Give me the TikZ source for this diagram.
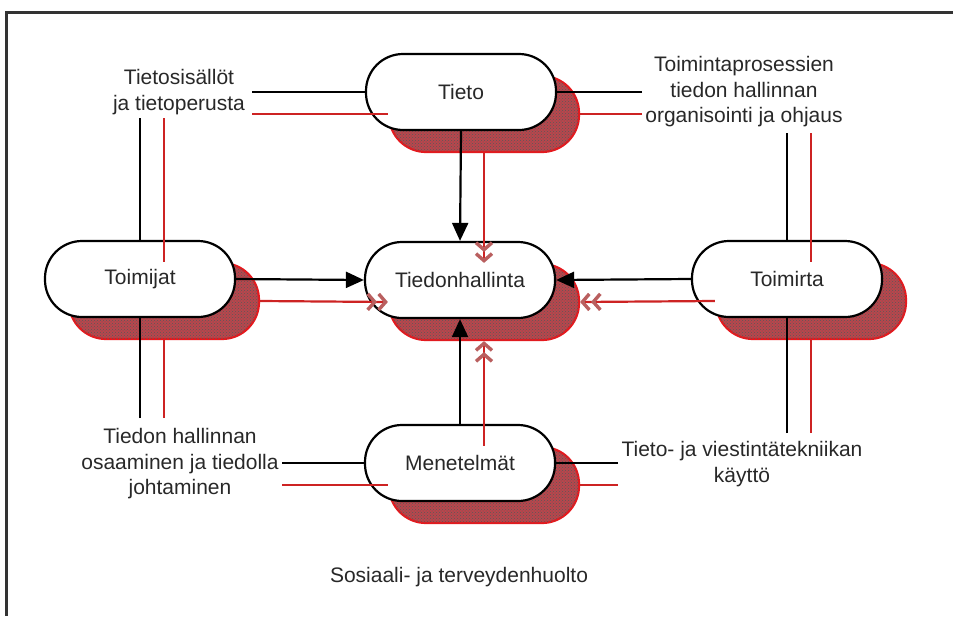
\documentclass[tikz,border=0pt]{standalone}
\usepackage{fontspec}
\setmainfont{Liberation Sans}
\usetikzlibrary{arrows.meta,patterns}
\definecolor{shadowfill}{RGB}{185,70,76}
\definecolor{shadowline}{RGB}{230,25,30}
\definecolor{redline}{RGB}{205,35,35}
\definecolor{txt}{RGB}{40,40,40}
\definecolor{hatcharrow}{RGB}{185,95,95}
\begin{document}
\begin{tikzpicture}[x=1pt,y=-1pt,
  whitebox/.style={draw=black,line width=2.2pt,fill=white,rectangle,rounded corners=37pt,
    minimum width=190pt,minimum height=76pt,inner sep=0pt,
    font=\fontsize{21}{25}\selectfont,text=txt},
  shadowbox/.style={draw=shadowline,line width=2.2pt,fill=shadowfill,rectangle,rounded corners=37pt,
    minimum width=190pt,minimum height=76pt,inner sep=0pt,
    postaction={pattern=crosshatch dots,pattern color=black!65}},
  lbl/.style={align=center,font=\fontsize{21}{25.5}\selectfont,text=txt,inner sep=0pt},
  blk/.style={draw=black,line width=2.2pt},
  rd/.style={draw=redline,line width=2.2pt},
  blkarrow/.style={blk,-{Triangle[length=18pt,width=16pt]}},
  rdarrow/.style={rd,-{Straight Barb[length=7pt,width=16pt,line width=3.4pt,color=hatcharrow]Straight Barb[length=7pt,width=16pt,line width=3.4pt,color=hatcharrow]}},
  frame/.style={draw=black!80,line width=3pt}
]
\useasboundingbox (0,0) rectangle (953,616);

% frame
\coordinate (fr1) at (953,12);
\coordinate (fr2) at (6,12);
\coordinate (fr3) at (6,616);
\draw[frame] (fr1) -- (fr2) -- (fr3);

% shadows
\node[shadowbox] (tietoS)   at (484,114) {};
\node[shadowbox] (tiedonS)  at (484,302) {};
\node[shadowbox] (toimijatS) at (164,301) {};
\node[shadowbox] (toimirtaS) at (811,301) {};
\node[shadowbox] (menS)     at (484,485) {};

% labels
\node[lbl] (l1) at (179,92) {Tietosisällöt\\ja tietoperusta};
\node[lbl] (l2) at (744,92) {Toimintaprosessien\\tiedon hallinnan\\organisointi ja ohjaus};
\node[lbl] (l3) at (180,464) {Tiedon hallinnan\\osaaminen ja tiedolla\\johtaminen};
\node[lbl] (l4) at (742,464) {Tieto- ja viestintätekniikan\\käyttö};
\node[lbl] (l5) at (459,577) {Sosiaali- ja terveydenhuolto};

% free ends of label lines
\coordinate (a1) at (252,92);
\coordinate (a1r) at (252,114);
\coordinate (b1) at (140,118);
\coordinate (b1r) at (164,118);
\coordinate (a2) at (642,92);
\coordinate (a2r) at (642,114);
\coordinate (b2) at (787,133);
\coordinate (b2r) at (811,133);
\coordinate (a3) at (282,463);
\coordinate (a3r) at (282,485);
\coordinate (b3) at (140,418);
\coordinate (b3r) at (164,418);
\coordinate (a4) at (618,463);
\coordinate (a4r) at (618,485);
\coordinate (b4) at (787,433);
\coordinate (b4r) at (811,433);

% black label lines (under white boxes)
\draw[blk] (a1) -- (461,92);
\draw[blk] (b1) -- (140,279);
\draw[blk] (a2) -- (461,92);
\draw[blk] (b2) -- (787,279);
\draw[blk] (a3) -- (460,463);
\draw[blk] (b3) -- (140,279);
\draw[blk] (a4) -- (460,463);
\draw[blk] (b4) -- (787,279);

% white boxes
\node[whitebox] (tieto)    at (461,92)  {Tieto};
\node[whitebox] (tiedon)   at (460,280) {Tiedonhallinta};
\node[whitebox] (toimijat) at (140,279) {Toimijat};
\node[whitebox] (toimirta) at (787,279) {Toimirta};
\node[whitebox] (men)      at (460,463) {Menetelmät};

% black arrows
\draw[blkarrow] (tieto.south) -- (tiedon.north);
\draw[blkarrow] (toimijat.east) -- (tiedon.west);
\draw[blkarrow] (toimirta.west) -- (tiedon.east);
\draw[blkarrow] (men.north) -- (tiedon.south);

% red label lines (on top)
\draw[rd] (a1r) -- (tietoS.west);
\draw[rd] (b1r) -- (toimijatS.north);
\draw[rd] (a2r) -- (tietoS.east);
\draw[rd] (b2r) -- (toimirtaS.north);
\draw[rd] (a3r) -- (menS.west);
\draw[rd] (b3r) -- (toimijatS.south);
\draw[rd] (a4r) -- (menS.east);
\draw[rd] (b4r) -- (toimirtaS.south);

% red arrows
\draw[rdarrow] (tietoS.south) -- (tiedonS.north);
\draw[rdarrow] (toimijatS.east) -- (tiedonS.west);
\draw[rdarrow] (toimirtaS.west) -- (tiedonS.east);
\draw[rdarrow] (menS.north) -- (tiedonS.south);
\end{tikzpicture}
\end{document}
